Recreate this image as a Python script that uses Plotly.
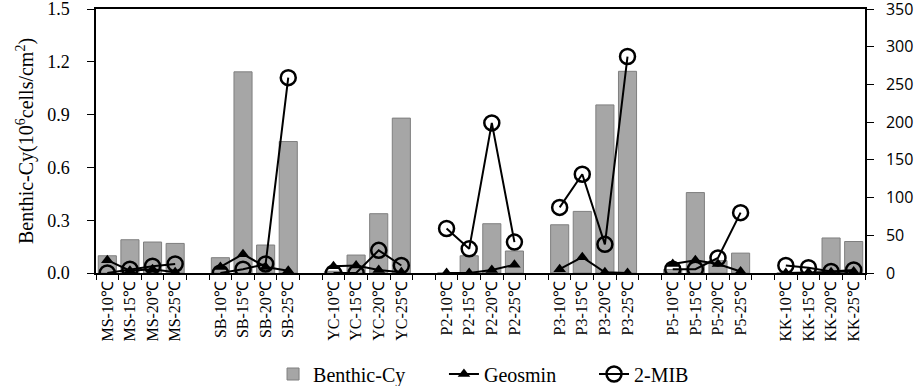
import plotly.graph_objects as go

groups = ["MS", "SB", "YC", "P2", "P3", "P5", "KK"]
temps = ["10℃", "15℃", "20℃", "25℃"]

benthic_cy = {
    "MS": [0.098, 0.189, 0.176, 0.168],
    "SB": [0.087, 1.143, 0.159, 0.747],
    "YC": [0.01, 0.102, 0.337, 0.880],
    "P2": [0.0, 0.098, 0.280, 0.125],
    "P3": [0.274, 0.350, 0.955, 1.146],
    "P5": [0.02, 0.457, 0.07, 0.113],
    "KK": [0.0, 0.0, 0.199, 0.179],
}
geosmin = {
    "MS": [17, 3, 5, 1],
    "SB": [8, 25, 8, 3],
    "YC": [9, 10, 4, 1],
    "P2": [0, 0, 4, 11],
    "P3": [5, 21, 1, 0],
    "P5": [12, 17, 12, 2],
    "KK": [0, 1, 1, 2],
}
mib = {
    "MS": [0, 5, 9, 12],
    "SB": [0, 5, 12, 259],
    "YC": [0, 0, 30, 10],
    "P2": [59, 32, 199, 41],
    "P3": [87, 131, 38, 287],
    "P5": [5, 5, 20, 80],
    "KK": [10, 7, 2, 4],
}

cats, bars, geo, mb = [], [], [], []
for gi, g in enumerate(groups):
    if gi > 0:
        cats.append(" " * gi)
        bars.append(None); geo.append(None); mb.append(None)
    for ti, t in enumerate(temps):
        cats.append(f"{g}-{t}")
        bars.append(benthic_cy[g][ti])
        geo.append(geosmin[g][ti])
        mb.append(mib[g][ti])

serif = "Liberation Serif"

fig = go.Figure()
fig.add_trace(go.Bar(
    x=cats, y=bars, name="Benthic-Cy", legend="legend",
    marker=dict(color="#A6A6A6", line=dict(color="#7F7F7F", width=1)),
))
fig.add_trace(go.Scatter(
    x=cats, y=geo, name="Geosmin", yaxis="y2", mode="lines+markers", legend="legend2",
    line=dict(color="black", width=2),
    marker=dict(symbol="triangle-up", size=11, color="black"),
))
fig.add_trace(go.Scatter(
    x=cats, y=mb, name="2-MIB", yaxis="y2", mode="lines+markers", legend="legend3",
    line=dict(color="black", width=2),
    marker=dict(symbol="circle-open", size=15, color="black", line=dict(width=2.5)),
))

def leg(xpos):
    return dict(orientation="h", x=xpos, xref="container", xanchor="left",
                y=0.0816, yref="container", yanchor="top",
                bgcolor="rgba(0,0,0,0)",
                font=dict(family=serif, size=20, color="black"))

fig.update_layout(
    width=915, height=386,
    margin=dict(l=96, r=50, t=9, b=113, autoexpand=False),
    plot_bgcolor="white", paper_bgcolor="white",
    bargap=0.2,
    font=dict(family=serif, color="black", size=20),
    showlegend=True,
    legend=leg(0.2984),
    legend2=leg(0.4852),
    legend3=leg(0.6492),
    xaxis=dict(
        type="category", categoryorder="array", categoryarray=cats,
        range=[-0.5, len(cats) - 0.5],
        tickangle=-90, tickfont=dict(family=serif, size=16),
        tickson="boundaries", ticks="outside", ticklen=5, tickcolor="black",
        showline=True, linecolor="black", linewidth=1.5, mirror=True,
        showgrid=False, automargin=False,
    ),
    yaxis=dict(
        range=[0, 1.5], dtick=0.3, tickformat=".1f",
        tickfont=dict(family=serif, size=18),
        ticks="outside", ticklen=7, tickcolor="black",
        ticklabelstandoff=14, ticklabeloverflow="allow",
        showline=True, linecolor="black", linewidth=1.5,
        showgrid=False, zeroline=False, automargin=False,
        title=dict(text="Benthic-Cy(10<sup>6</sup>cells/cm<sup>2</sup>)",
                   font=dict(family=serif, size=20), standoff=8),
    ),
    yaxis2=dict(
        overlaying="y", side="right", range=[0, 350], dtick=50,
        tickfont=dict(family="Open Sans", size=16),
        ticks="outside", ticklen=7, tickcolor="black",
        ticklabelstandoff=9, ticklabeloverflow="allow",
        showline=True, linecolor="black", linewidth=1.5,
        showgrid=False, zeroline=False, automargin=False,
    ),
)

fig.write_html(
    "out.html",
    config={"displayModeBar": False},
    post_script="document.body.style.margin='0';document.body.style.overflow='hidden';",
)
